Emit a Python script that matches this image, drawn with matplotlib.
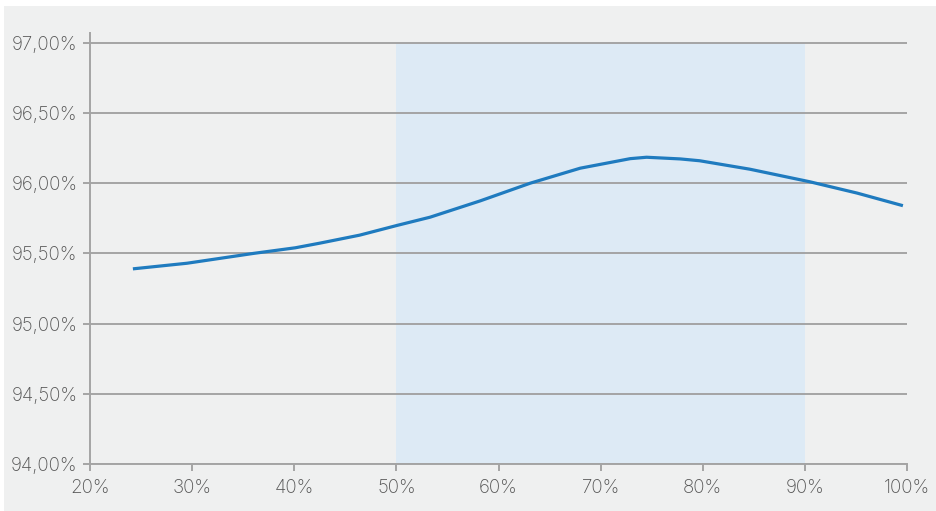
import numpy as np
import matplotlib.pyplot as plt
from matplotlib.patches import Rectangle
from matplotlib.ticker import FuncFormatter

# load share (%) vs efficiency (%)
load_pct = [24.2, 29.5, 36.0, 40.1, 42.5, 46.4, 50.1, 53.3, 58.2, 63.1, 68.0,
            72.9, 74.5, 77.8, 79.7, 84.6, 90.5, 95.1, 99.6]
efficiency = [95.39, 95.43, 95.50, 95.54, 95.573, 95.63, 95.70, 95.758, 95.874,
              96.00, 96.107, 96.175, 96.185, 96.173, 96.16, 96.10, 96.01, 95.93,
              95.84]
band = [50, 90]
x_ticks = [20, 30, 40, 50, 60, 70, 80, 90, 100]
y_ticks = [94.0, 94.5, 95.0, 95.5, 96.0, 96.5, 97.0]

bg = '#eff0f0'
grid_c = '#a4a4a4'
txt_c = '#555555'

plt.rcParams['font.family'] = ['Inter', 'DejaVu Sans']

fig = plt.figure(figsize=(9.36, 5.11), dpi=100)
fig.patch.set_facecolor('white')
fig.patches.append(Rectangle((4 / 936, 0), 1, 1 - 6 / 511, transform=fig.transFigure,
                             facecolor=bg, edgecolor='none', zorder=-10))

ax = fig.add_axes([90 / 936, 1 - 464 / 511, (907 - 90) / 936, (464 - 33) / 511])
ax.set_facecolor('none')

ax.fill_between(band, y_ticks[0], y_ticks[-1], color='#ddeaf5', lw=0, zorder=0)
for y in y_ticks:
    ax.axhline(y, color=grid_c, lw=1.4, zorder=1)

ax.plot(load_pct, efficiency, color='#1f7bbf', lw=2.3, zorder=3,
        solid_capstyle='butt', solid_joinstyle='round')

ax.set_xlim(20, 100)
ax.set_ylim(94, 97.07)
ax.set_xticks(x_ticks)
ax.set_yticks(y_ticks)
ax.xaxis.set_major_formatter(FuncFormatter(lambda v, p: f'{v:.0f}%'))
ax.yaxis.set_major_formatter(
    FuncFormatter(lambda v, p: f'{v:.2f}'.replace('.', ',') + '%'))

for s in ['top', 'right']:
    ax.spines[s].set_visible(False)
for s in ['left', 'bottom']:
    ax.spines[s].set_color(grid_c)
    ax.spines[s].set_linewidth(1.4)

ax.tick_params(axis='both', colors=grid_c, width=1.4, length=5,
               labelcolor=txt_c, labelsize=13.5)
ax.tick_params(axis='x', pad=6)
ax.tick_params(axis='y', pad=4)
for lab in ax.get_xticklabels() + ax.get_yticklabels():
    lab.set_fontweight('light')

fig.savefig('out.png', dpi=100, facecolor=fig.get_facecolor())
